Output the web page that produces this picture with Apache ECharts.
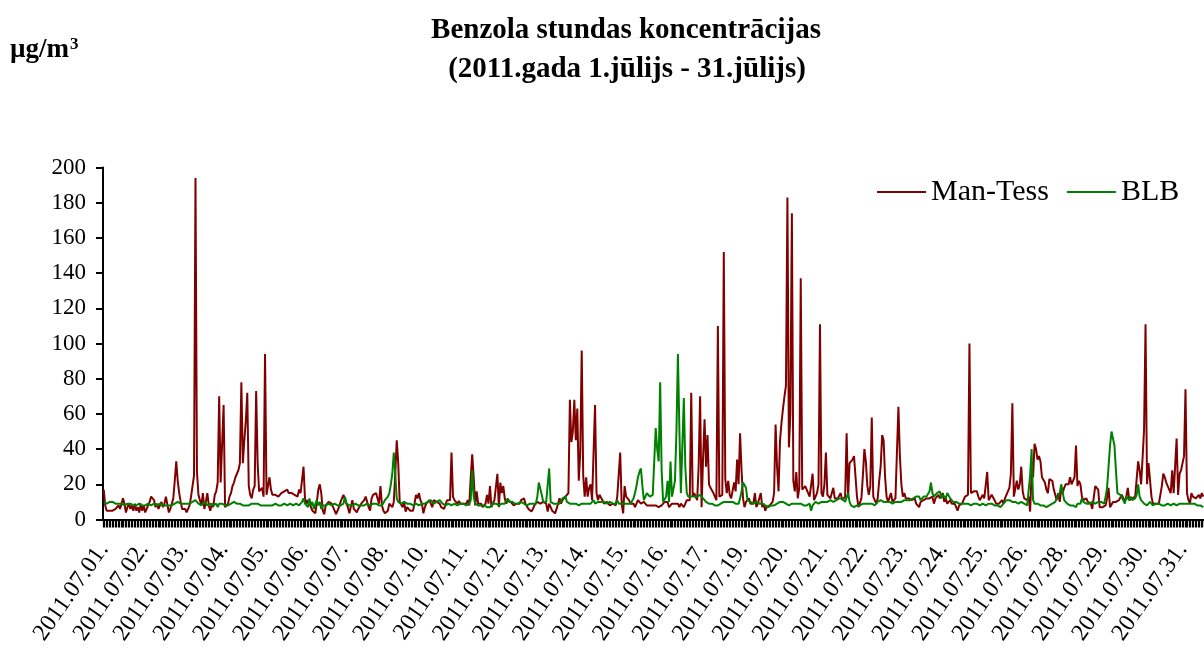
<!DOCTYPE html>
<html>
<head>
<meta charset="utf-8">
<script src="https://cdn.jsdelivr.net/npm/echarts@6/dist/echarts.min.js"></script>
<style>
html,body{margin:0;padding:0;background:#fff;}
#chart{width:1204px;height:648px;}
</style>
</head>
<body>
<div id="chart"></div>
<script>
// ---- data (hourly values, one row of 24 hours per day, 1-31 July 2011) ----
const year = 2011, month = 7, days = 31;
const seriesNames = ['Man-Tess', 'BLB'];
const titleLines = ['Benzola stundas koncentrācijas', '(2011.gada 1.jūlijs - 31.jūlijs)'];
const unitBase = 'µg/m', unitSup = '3';
const yTicks = [0, 20, 40, 60, 80, 100, 120, 140, 160, 180, 200];

const manTess = [
 [17,8,5,4.5,5,4.5,5,4,6,5,8,6,7,12,9,4,7,9,6,8,5,9,5,7],
 [4,9,5,8,4,6,5,10,13,14,11,7,9,6,8,10,7,9,13,12,4,6,9,12],
 [22,33,22,15,10,6,5,6,4,3,8,13,12,25,194,27,14,13,8,15,6,10,15,8],
 [5,9,7,14,16,21,70,21,20,65,7,8,9,13,15,19,21,24,26,28,32,78,32,45],
 [56,72,19,14,12,17,19,73,32,16,15,18,13,94,14,15,24,17,14,15,14,15,13,14],
 [15,14,16,17,17,15,16,15,16,14,14,13,17,15,16,30,12,9,11,10,7,5,4,3.5],
 [10,17,20,15,5,3,8,9,10,11,9,8,5,3,3,7,10,12,14,15,9,7,3.5,4],
 [11,6,5,4,6,7,9,10,11,13,12,7,5,12,14,15,15,14,9,19,8,5,3.5,3.5],
 [5,9,9,7,10,26,45,32,10,9,7,10,4.5,7,8,5,6,5,9,14,12,15,11,9],
 [3.5,7,9,10,11,10,7,11,11,10,9,9,7,7,6,6,11,10,11,38,13,11,10,9],
 [10.5,9,10,9,8,9,11,8,24,37,24,8,16,9,8,9,7,7,9,14,9,19,7,9],
 [11,10,26,7,21,15,19,12,9,11,11,10,9,8,7,9,8,9,11,10,12,9,8,6],
 [5,4.5,6,8,9,10,9,9,10,10,10,9,4.5,9,7,5,6,3.5,6,9,12,9,11,12],
 [13,13,15,68,44,50,68,45,63,22,38,96,25,13,24,13,18,20,11,12,65,15,11,14],
 [15,11,9,8,10,9,8,9,9,8,8,13,14,38,9,3.5,19,13,14,11,9,8,9,7],
 [9,11,10,9,8,10,9,8,9,8,9,8,7,8,7,7,7,8,9,10,9,10,7,8],
 [9,10,9,8,9,7,9,9,7,9,11,12,11,72,13,15,14,11,30,70,7,35,57,30],
 [48,20,18,17,15,14,11,110,13,12,14,152,23,15,22,14,12,11,21,16,34,20,49,28],
 [12,7,10,9,12,9,8,9,15,7,9,8,15,7,9,5,7,8,8,7,10,15,54,30],
 [16,45,55,63,70,76,183,41,60,174,22,16,27,12,18,137,17,18,19,18,15,13,14,26],
 [11,12,15,20,111,15,13,20,38,14,13,12,13,18,12,11,12,12,15,11,11,13,49,13],
 [32,33,34,36,37,13,7,7,12,25,40,33,19,14,19,58,13,13,9,12,22,30,48,45],
 [24,13,10,10,15,10,11,12,12,64,36,20,13,15,12,13,12,12,11,10,12,9,10,7],
 [10,9,11,11,12,12,12,13,13,9,12,12,14,12,13,15,10,12,9,8,11,9,8,9],
 [9,5,8,9,9,11,13,14,14,100,15,16,16,16,16,13,11,12,14,12,13,27,11,10],
 [14,15,11,9,8,9,10,11,9,12,13,16,18,26,66,13,12,22,17,20,30,16,12,11],
 [11,13,4.5,26,24,43,40,34,36,33,24,25,21,17,15,23,22,22,17,18,11,15,10,17],
 [15,18,20,21,20,24,20,22,24,42,19,22,20,13,11,11,12,10,9,9,6,5,19,19],
 [17,7,7,7,7,8,12,18,7,8,10,9,10,9,11,12,14,12,10,13,18,11,12,12],
 [13,13,14,33,28,20,35,51,111,20,32,33,13,9,10,9,9,9,10,19,26,24,21,20],
 [17,15,28,15,15,46,14,26,28,28,36,74,15,11,9,15,13,13,12,12,14,12,15,13]
];

const blb = [
 [10,9,9,10,10,9,10,9,9,10,9,10,9,9,8,9,9,8,9,9,8,9,8,8],
 [9,8,8,7,8,8,9,8,8,7,9,8,8,8,9,9,8,7,8,9,8,9,8,8],
 [9,9,10,9,9,8,9,8,9,10,9,9,10,10,11,10,9,9,8,9,10,9,8,9],
 [9,8,8,9,9,7,9,8,9,8,8,7,8,8,9,9,10,10,9,9,9,8,8,7],
 [8,7,8,8,9,9,9,10,9,9,8,8,8,9,8,8,8,9,8,8,9,8,8,8],
 [8,8,9,8,8,8,9,8,8,8,9,8,8,8,10,12,9,10,7,12,8,10,6,9],
 [11,8,10,6,8,9,8,8,9,8,8,8,9,8,8,8,8,9,9,13,9,8,8,9],
 [8,8,9,9,8,9,8,9,8,9,9,8,8,8,9,9,9,8,8,9,8,9,11,11],
 [13,15,20,26,38,26,12,10,9,9,10,10,9,9,10,9,8,8,8,9,9,8,8,9],
 [9,9,10,10,10,11,10,9,9,10,10,11,10,9,9,8,8,9,9,8,9,9,9,8],
 [9,9,8,9,9,8,9,9,11,28,13,9,9,8,9,8,9,8,8,7,8,7,8,9],
 [8,9,9,8,8,9,9,9,10,12,10,10,10,9,9,10,9,10,10,9,9,9,8,8],
 [9,10,9,8,9,13,21,20,14,10,10,10,11,29,10,9,9,9,9,8,9,9,12,11],
 [13,10,9,9,8,9,8,9,9,8,8,9,8,9,8,9,8,9,8,11,9,9,10,9],
 [10,9,10,9,9,10,10,9,9,10,9,11,9,9,9,9,9,9,9,8,9,9,12,15],
 [19,24,27,29,19,11,13,15,14,13,14,14,14,52,40,33,78,28,10,9,13,22,10,33],
 [13,14,22,50,94,51,15,16,69,30,15,13,12,13,13,13,13,13,14,14,13,12,11,10],
 [10,9,9,9,9,8,9,8,9,9,10,10,10,10,10,10,10,10,9,9,9,9,12,16],
 [21,22,18,11,10,10,9,9,10,10,9,9,9,9,8,8,8,7,7,8,8,8,9,9],
 [10,10,10,10,9,9,9,8,9,9,9,9,8,9,8,9,8,8,9,8,8,9,5,8],
 [9,10,10,9,9,10,10,10,11,10,10,11,10,10,11,11,11,12,12,12,11,10,11,15],
 [10,8,8,7,7,8,8,8,9,9,9,9,8,9,8,9,9,8,9,10,10,11,11,10],
 [10,10,10,10,9,9,9,10,9,10,10,10,11,11,12,11,11,11,12,12,13,13,14,13],
 [11,12,13,13,13,14,16,21,15,13,13,15,14,16,12,14,13,12,15,14,12,11,10,9],
 [10,9,9,8,9,8,9,9,9,9,8,8,9,9,9,9,8,8,9,9,8,8,9,10],
 [9,8,8,8,8,8,7,8,9,10,11,12,11,11,10,10,10,9,9,10,10,9,9,8],
 [8,7,25,40,11,9,9,9,9,8,8,8,7,7,8,8,9,9,10,10,12,13,15,20],
 [19,11,10,9,9,8,8,8,8,7,9,9,9,12,10,11,9,10,9,10,10,9,9,10],
 [10,9,10,9,9,13,18,30,42,50,50,42,28,15,14,14,13,11,9,13,12,11,13,11],
 [12,12,14,20,13,11,10,9,9,8,9,10,10,8,9,9,9,9,8,8,8,8,8,9],
 [8,8,8,9,8,8,8,9,9,9,9,9,9,9,9,9,9,9,8,8,8,8,8,7]
];

// ---- build categories (one per hour) ----
function pad(n){ return (n < 10 ? '0' : '') + n; }
const categories = [];
for (let d = 1; d <= days; d++) {
  for (let h = 0; h < 24; h++) {
    categories.push(year + '.' + pad(month) + '.' + pad(d) + '. ' + pad(h) + ':00');
  }
}
const manTessFlat = [].concat(...manTess);
const blbFlat = [].concat(...blb);

const serif = "'Liberation Serif','Times New Roman',serif";
const chart = echarts.init(document.getElementById('chart'), null, {renderer: 'canvas'});
chart.setOption({
  animation: false,
  backgroundColor: '#ffffff',
  graphic: [
    {type: 'text', x: 626, y: 31, style: {text: titleLines[0], textAlign: 'center', textVerticalAlign: 'middle', fill: '#000', font: 'bold 29px ' + serif}},
    {type: 'text', x: 627, y: 70, style: {text: titleLines[1], textAlign: 'center', textVerticalAlign: 'middle', fill: '#000', font: 'bold 29px ' + serif}},
    {type: 'text', x: 10, y: 50, style: {
      text: '{a|' + unitBase + '}{b|' + unitSup + '}',
      textAlign: 'left', textVerticalAlign: 'middle', fill: '#000',
      rich: {
        a: {fontFamily: serif, fontWeight: 'bold', fontSize: 27, fill: '#000', color: '#000'},
        b: {fontFamily: serif, fontWeight: 'bold', fontSize: 17, fill: '#000', color: '#000', verticalAlign: 'top', padding: [0, 0, 0, 1]}
      }
    }}
  ],
  legend: {
    data: seriesNames,
    left: 872,
    top: 172,
    icon: 'rect',
    itemWidth: 49,
    itemHeight: 2,
    itemGap: 18,
    textStyle: {fontFamily: serif, fontSize: 30, color: '#000'}
  },
  grid: {left: 103, top: 167.5, width: 1101, height: 352, containLabel: false},
  xAxis: {
    type: 'category',
    data: categories,
    boundaryGap: true,
    axisLine: {lineStyle: {color: '#000', width: 2}},
    axisTick: {show: true, interval: 0, length: 8, lineStyle: {color: '#000', width: 1.2}},
    axisLabel: {
      interval: 26,
      rotate: 55,
      margin: 26,
      fontFamily: serif,
      fontSize: 24,
      color: '#000',
      formatter: function (v) { return v.split(' ')[0]; }
    },
    splitLine: {show: false}
  },
  yAxis: {
    type: 'value',
    min: yTicks[0],
    max: yTicks[yTicks.length - 1],
    interval: 20,
    axisLine: {show: true, lineStyle: {color: '#000', width: 2}},
    axisTick: {show: true, length: 7, lineStyle: {color: '#000', width: 2}},
    axisLabel: {margin: 17, fontFamily: serif, fontSize: 23, color: '#000'},
    splitLine: {show: false}
  },
  series: [
    {name: seriesNames[0], type: 'line', data: manTessFlat, symbol: 'none', showSymbol: false,
     lineStyle: {color: '#800000', width: 2}, itemStyle: {color: '#800000'}},
    {name: seriesNames[1], type: 'line', data: blbFlat, symbol: 'none', showSymbol: false,
     lineStyle: {color: '#008000', width: 2}, itemStyle: {color: '#008000'}}
  ]
});
</script>
</body>
</html>
